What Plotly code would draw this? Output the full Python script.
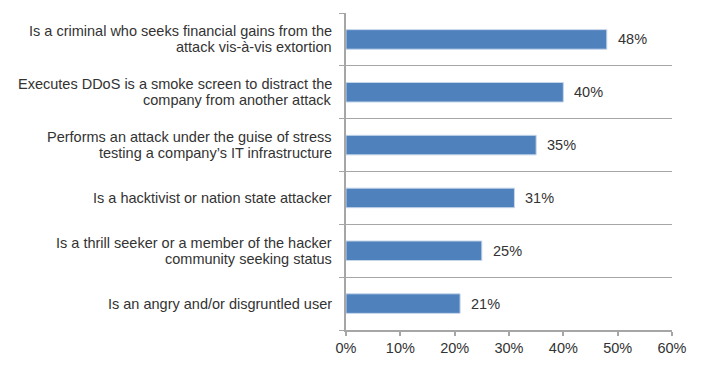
import plotly.graph_objects as go

categories = [
    "Is a criminal who seeks financial gains from the<br>attack vis-à-vis extortion",
    "Executes DDoS is a smoke screen to distract the<br>company from another attack",
    "Performs an attack under the guise of stress<br>testing a company’s IT infrastructure",
    "Is a hacktivist or nation state attacker",
    "Is a thrill seeker or a member of the hacker<br>community seeking status",
    "Is an angry and/or disgruntled user",
]
values = [48, 40, 35, 31, 25, 21]
x_ticks = [0, 10, 20, 30, 40, 50, 60]
x_tick_labels = ["0%", "10%", "20%", "30%", "40%", "50%", "60%"]

n = len(categories)
ypos = [n - 1 - i for i in range(n)]  # top to bottom
boundaries = [i - 0.5 for i in range(n + 1)]

FONT = "Liberation Sans, Arial, Helvetica, sans-serif"
TXT = "#333333"
GRID = "#a6a6a6"
LINE_H = 16

fig = go.Figure()
fig.add_trace(go.Bar(
    x=values, y=ypos, orientation="h",
    width=0.37,
    marker=dict(color="#4f81bd", line=dict(color="#c6d6ea", width=1)),
    hoverinfo="skip",
))

annotations = []
for c, y in zip(categories, ypos):
    lines = c.split("<br>")
    k = len(lines)
    for j, ln in enumerate(lines):
        annotations.append(dict(
            x=0, xref="paper", y=y, yref="y", text=ln, showarrow=False,
            xanchor="right", yanchor="middle", align="right", xshift=-12,
            yshift=((k - 1) / 2 - j) * LINE_H,
            font=dict(family=FONT, size=14.5, color=TXT),
        ))
for v, y in zip(values, ypos):
    annotations.append(dict(
        x=v, xref="x", y=y, yref="y", text=f"{v}%", showarrow=False,
        xanchor="left", yanchor="middle", xshift=9,
        font=dict(family=FONT, size=14.5, color=TXT),
    ))

fig.update_layout(
    width=702, height=370,
    margin=dict(l=345.5, r=30, t=13, b=40),
    paper_bgcolor="white", plot_bgcolor="white",
    showlegend=False,
    annotations=annotations,
    xaxis=dict(
        range=[0, 60], tickvals=x_ticks, ticktext=x_tick_labels,
        showgrid=False, zeroline=False,
        showline=True, linecolor=GRID, linewidth=1.5,
        ticks="outside", ticklen=4, tickcolor=GRID, tickwidth=1.5,
        tickfont=dict(family=FONT, size=14.5, color=TXT),
        fixedrange=True,
    ),
    yaxis=dict(
        range=[-0.5, n - 0.5], tickvals=boundaries, showticklabels=False,
        showgrid=True, gridcolor=GRID, gridwidth=1.2,
        zeroline=False,
        showline=True, linecolor=GRID, linewidth=1.5,
        ticks="outside", ticklen=5, tickcolor=GRID, tickwidth=1.2,
        fixedrange=True,
    ),
)

fig.write_html("out.html")
